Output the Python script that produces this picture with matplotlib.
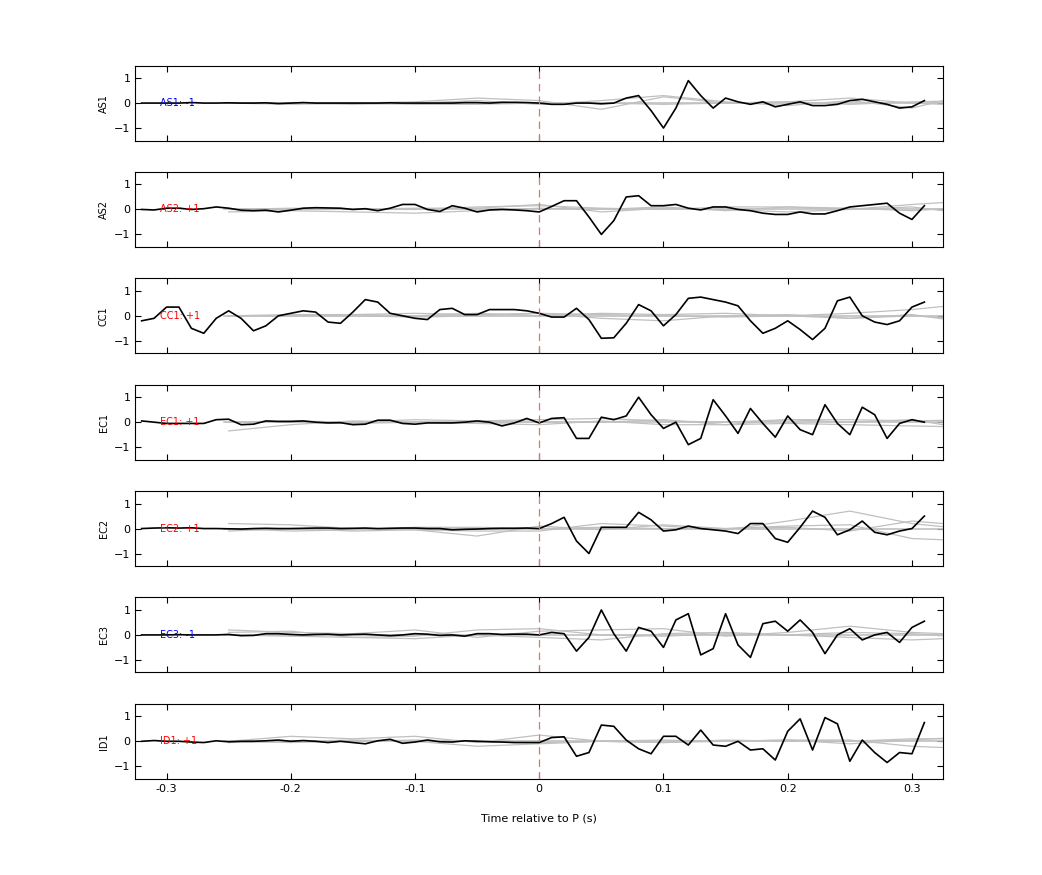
import numpy as np
import matplotlib
matplotlib.use("Agg")
import matplotlib.pyplot as plt

# sample times of the black traces (10 ms steps)
t = np.arange(-32, 32) / 100
# sample times of the grey background traces
tg = np.arange(-5, 8) * 0.05

stations = ['AS1', 'AS2', 'CC1', 'EC1', 'EC2', 'EC3', 'ID1']
polarity = ['-1', '+1', '+1', '+1', '+1', '-1', '+1']

pre_quiet = {
    'AS1': [0, 0, 0, 0, 0.02, 0, 0, 0.01, 0, 0, 0.01, -0.02, 0, 0.02, 0, 0,
            0, 0, 0, 0, 0.01, 0, 0, 0, 0, 0, 0.02, 0.02, 0, 0.03, 0.03, 0.02],
    'EC2': [0, 0.02, 0.03, 0.02, 0.03, 0, 0, -0.01, -0.02, 0, 0.01, 0, 0, 0.01, 0.02, 0.02,
            0, 0.01, 0.02, 0, 0.01, 0.02, 0.02, 0, 0, -0.05, -0.03, -0.02, 0, 0.01, 0.01, 0.02],
    'EC3': [0, 0, 0, 0.01, 0, 0, 0, 0.02, -0.03, -0.02, 0.05, 0.05, 0.02, 0, 0.02, 0.03,
            0, 0.02, 0.03, 0, -0.03, 0, 0.05, 0.03, -0.02, 0, -0.05, 0.05, 0.05, 0.02, 0.03, 0.03],
    'ID1': [0, 0.03, 0, 0, -0.03, -0.05, 0.02, -0.02, 0, 0, 0.02, 0.05, 0, 0.03, 0, -0.05,
            0, -0.05, -0.1, 0.02, 0.08, -0.08, -0.03, 0.05, -0.02, -0.03, 0.02, 0, -0.02, -0.03, -0.05, -0.05],
}

black = {
    'AS1': pre_quiet['AS1'] + [0, -0.05, -0.05, 0, 0, -0.03, 0, 0.2, 0.3, -0.3, -1.0, -0.2, 0.9, 0.3,
                               -0.2, 0.2, 0.05, -0.05, 0.05, -0.15, -0.05, 0.05, -0.1, -0.1, -0.05, 0.1,
                               0.15, 0.05, -0.05, -0.2, -0.15, 0.1],
    'AS2': [0, -0.02, 0.05, 0.05, 0, 0.03, 0.1, 0.05, -0.03, -0.05, -0.03, -0.1, -0.03, 0.05, 0.07, 0.06,
            0.05, 0, 0.03, -0.05, 0.05, 0.2, 0.2, 0, -0.08, 0.15, 0.05, -0.1, -0.02, 0, -0.02, -0.05,
            -0.1, 0.12, 0.35, 0.35, -0.3, -1.0, -0.45, 0.5, 0.55, 0.15, 0.15, 0.2, 0.05, -0.02, 0.1, 0.1,
            0, -0.05, -0.15, -0.2, -0.2, -0.1, -0.18, -0.18, -0.05, 0.1, 0.15, 0.2, 0.25, -0.15, -0.4, 0.15],
    'CC1': [-0.2, -0.1, 0.35, 0.35, -0.5, -0.7, -0.1, 0.2, -0.1, -0.6, -0.4, 0, 0.1, 0.2, 0.15, -0.25,
            -0.3, 0.15, 0.65, 0.55, 0.1, 0, -0.1, -0.15, 0.25, 0.3, 0.05, 0.05, 0.25, 0.25, 0.25, 0.2,
            0.1, -0.05, -0.05, 0.3, -0.15, -0.9, -0.88, -0.3, 0.45, 0.2, -0.4, 0.05, 0.7, 0.75, 0.65, 0.55,
            0.4, -0.2, -0.7, -0.5, -0.2, -0.55, -0.95, -0.5, 0.6, 0.75, 0, -0.25, -0.35, -0.2, 0.35, 0.55],
    'EC1': [0.05, 0, -0.05, -0.05, -0.05, -0.05, 0.1, 0.12, -0.1, -0.08, 0.05, 0.03, 0.03, 0.05, 0, -0.03,
            -0.02, -0.1, -0.08, 0.08, 0.08, -0.05, -0.08, -0.03, -0.03, -0.03, 0, 0.05, 0, -0.15, -0.03, 0.15,
            -0.03, 0.15, 0.18, -0.65, -0.65, 0.2, 0.1, 0.25, 1.0, 0.3, -0.25, 0, -0.9, -0.65, 0.9, 0.25,
            -0.45, 0.55, -0.05, -0.6, 0.25, -0.3, -0.5, 0.7, -0.05, -0.5, 0.6, 0.3, -0.65, -0.05, 0.1, 0],
    'EC2': pre_quiet['EC2'] + [0, 0.2, 0.45, -0.5, -1.0, 0.05, 0.05, 0.05, 0.65, 0.35, -0.1, -0.05, 0.1, 0,
                               -0.05, -0.1, -0.2, 0.2, 0.2, -0.4, -0.55, 0.05, 0.7, 0.45, -0.25, -0.05,
                               0.3, -0.15, -0.25, -0.1, 0, 0.5],
    'EC3': pre_quiet['EC3'] + [0, 0.1, 0.05, -0.65, -0.1, 1.0, 0.05, -0.65, 0.3, 0.15, -0.5, 0.6, 0.85, -0.8,
                               -0.55, 0.85, -0.4, -0.9, 0.45, 0.55, 0.15, 0.6, 0.1, -0.75, 0, 0.25,
                               -0.2, 0, 0.1, -0.3, 0.3, 0.55],
    'ID1': pre_quiet['ID1'] + [-0.05, 0.15, 0.18, -0.6, -0.45, 0.65, 0.6, 0.05, -0.3, -0.5, 0.2, 0.2, -0.15, 0.45,
                               -0.15, -0.2, 0, -0.35, -0.3, -0.75, 0.4, 0.9, -0.35, 0.95, 0.7, -0.8,
                               0.05, -0.45, -0.85, -0.45, -0.5, 0.75],
}

# grey traces (other stacked waveforms), coarse samples
grey = {
    'AS1': [[0, -0.05, 0, 0.05, 0.2, 0.1, -0.25, 0.25, 0, 0.05, 0.2, 0, -0.1],
            [0, 0, -0.05, 0, 0.1, -0.05, 0.1, 0.3, 0.05, -0.1, 0.1, -0.2, 0.4],
            [0, 0, 0, -0.05, -0.05, 0, 0, -0.05, 0, 0.05, -0.05, 0.05, 0.1]],
    'AS2': [[-0.1, -0.05, -0.1, -0.15, -0.05, 0.05, 0, 0.1, -0.05, 0.1, 0.05, -0.05, 0.1],
            [0, 0, 0, 0, 0.1, 0.15, 0.05, 0, 0.1, 0.1, 0, 0.2, 0.35],
            [0, 0.05, 0, 0.05, 0.05, 0.2, -0.1, 0.05, 0, -0.1, 0, 0.1, -0.2]],
    'CC1': [[0, 0.05, 0.05, 0.1, 0.05, 0.1, -0.1, -0.2, 0, 0.05, -0.1, 0.05, -0.3],
            [0, 0, 0.05, 0, 0.1, 0, 0.1, 0.05, 0.1, 0, 0.1, 0.25, 0.5],
            [0, 0, 0, -0.05, 0, 0.1, 0.05, 0, -0.05, 0, -0.1, 0, -0.15]],
    'EC1': [[-0.35, -0.1, 0.05, 0, 0, 0, 0, 0.1, -0.1, 0.1, 0, 0.1, -0.3],
            [0, 0.05, 0, 0.1, 0.05, 0.1, 0.15, 0.05, 0, 0.1, 0.1, 0.05, 0.1],
            [0, 0, -0.05, 0, -0.05, -0.1, 0.05, -0.1, -0.1, -0.05, -0.1, -0.15, -0.2]],
    'EC2': [[0.2, 0.15, 0, -0.05, -0.1, -0.1, 0.2, 0.1, -0.05, 0.3, 0.7, 0.2, -0.05],
            [-0.1, 0, -0.1, -0.05, -0.3, 0.1, -0.05, 0.15, 0, 0.1, 0.15, -0.4, -0.5],
            [0, -0.1, -0.05, 0.05, 0.05, 0, 0.05, 0, 0, 0.05, -0.1, 0.3, 0.1]],
    'EC3': [[0.2, 0.1, 0.05, 0.2, -0.1, 0.15, 0.2, 0.25, -0.05, 0.1, 0.35, 0.1, 0],
            [0.1, 0.15, -0.1, -0.05, 0.2, 0.25, 0, -0.05, 0.05, 0, 0.1, 0.05, -0.1],
            [0, -0.05, -0.1, -0.15, 0, -0.1, -0.2, 0.05, 0.1, 0, -0.1, -0.2, -0.1]],
    'ID1': [[0, 0.2, 0.1, 0.2, -0.05, 0.25, 0, -0.05, 0, 0.05, -0.1, 0.05, 0.2],
            [-0.05, 0, 0.05, 0, -0.2, -0.1, 0, 0.05, 0, 0.05, 0.05, -0.2, -0.3],
            [0, -0.05, 0, 0.05, 0, -0.05, 0, -0.05, 0.05, 0, 0, 0.1, 0.1]],
}

fig, axes = plt.subplots(len(stations), 1, figsize=(10.42, 8.75), dpi=100, sharex=True)
fig.subplots_adjust(left=0.13, right=0.905, top=0.925, bottom=0.11, hspace=0.42)

for ax, st, pol in zip(axes, stations, polarity):
    for g in grey[st]:
        ax.plot(tg, g, color='#c0c0c0', lw=0.9)
    ax.axhline(0, color='#c0c0c0', lw=1.2, xmin=0.11)
    ax.plot(t, black[st], color='black', lw=1.2)
    ax.axvline(0, color='#e87070', lw=0.9, ls=(0, (6, 4)))
    ax.text(-0.305, 0, f'{st}: {pol}', color='blue' if pol == '-1' else 'red',
            fontsize=7, va='center', ha='left')
    ax.set_xlim(-0.325, 0.325)
    ax.set_ylim(-1.5, 1.5)
    ax.set_yticks([-1, 0, 1])
    ax.set_xticks([-0.3, -0.2, -0.1, 0, 0.1, 0.2, 0.3])
    ax.set_xticklabels(['-0.3', '-0.2', '-0.1', '0', '0.1', '0.2', '0.3'])
    ax.set_ylabel(st, fontsize=7)
    ax.tick_params(direction='in', top=True, right=True, labelsize=8, length=4)
    for sp in ax.spines.values():
        sp.set_linewidth(0.8)

axes[-1].set_xlabel('Time relative to P (s)', fontsize=8, labelpad=14)
fig.savefig('out.png', dpi=100)
